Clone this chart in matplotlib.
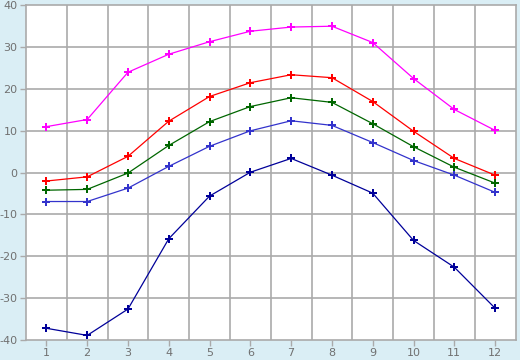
import matplotlib
matplotlib.use("Agg")
import matplotlib.pyplot as plt

months = [1, 2, 3, 4, 5, 6, 7, 8, 9, 10, 11, 12]
s_max = [11.0, 12.7, 24.0, 28.3, 31.3, 33.8, 34.8, 35.0, 31.1, 22.5, 15.1, 10.1]
s_avg_high = [-2.0, -1.0, 3.9, 12.3, 18.2, 21.5, 23.4, 22.7, 17.0, 9.9, 3.4, -0.6]
s_avg = [-4.2, -4.0, -0.1, 6.5, 12.2, 15.8, 17.9, 16.8, 11.7, 6.2, 1.3, -2.5]
s_avg_low = [-6.9, -6.9, -3.7, 1.5, 6.3, 10.0, 12.4, 11.3, 7.2, 2.9, -0.6, -4.7]
s_min = [-37.2, -38.9, -32.6, -15.8, -5.6, 0.1, 3.4, -0.6, -4.9, -16.2, -22.6, -32.4]

series = [
    (s_max, "#ff00ff"),
    (s_avg_high, "#ff0000"),
    (s_avg, "#006600"),
    (s_avg_low, "#3333cc"),
    (s_min, "#000099"),
]

y_ticks = [-40, -30, -20, -10, 0, 10, 20, 30, 40]

fig = plt.figure(figsize=(5.2, 3.6), dpi=100)
fig.patch.set_facecolor("#daeef5")
ax = fig.add_axes([26/520, 20/360, (515.5-26)/520, (340-5.3)/360])
ax.set_facecolor("white")

for vals, col in series:
    ax.plot(months, vals, color=col, lw=0.9, marker="P", markersize=5.5,
            markeredgewidth=0, zorder=3)

ax.set_xlim(0.5, 12.5)
ax.set_ylim(-40, 40)
ax.set_xticks(months)
ax.set_xticklabels([str(m) for m in months])
ax.set_yticks(y_ticks)
ax.set_yticklabels([str(v) for v in y_ticks])

for xv in [m + 0.5 for m in months[:-1]]:
    ax.axvline(xv, color="#aaaaaa", lw=1.2, zorder=1)
for yv in y_ticks[1:-1]:
    ax.axhline(yv, color="#aaaaaa", lw=1.2, zorder=1)

for sp in ax.spines.values():
    sp.set_color("#aaaaaa")
    sp.set_linewidth(1.2)

ax.tick_params(axis="both", colors="#aaaaaa", length=4, width=1,
               labelcolor="#707070", labelsize=8, pad=2)

fig.savefig("out.png", dpi=100, facecolor=fig.get_facecolor())
